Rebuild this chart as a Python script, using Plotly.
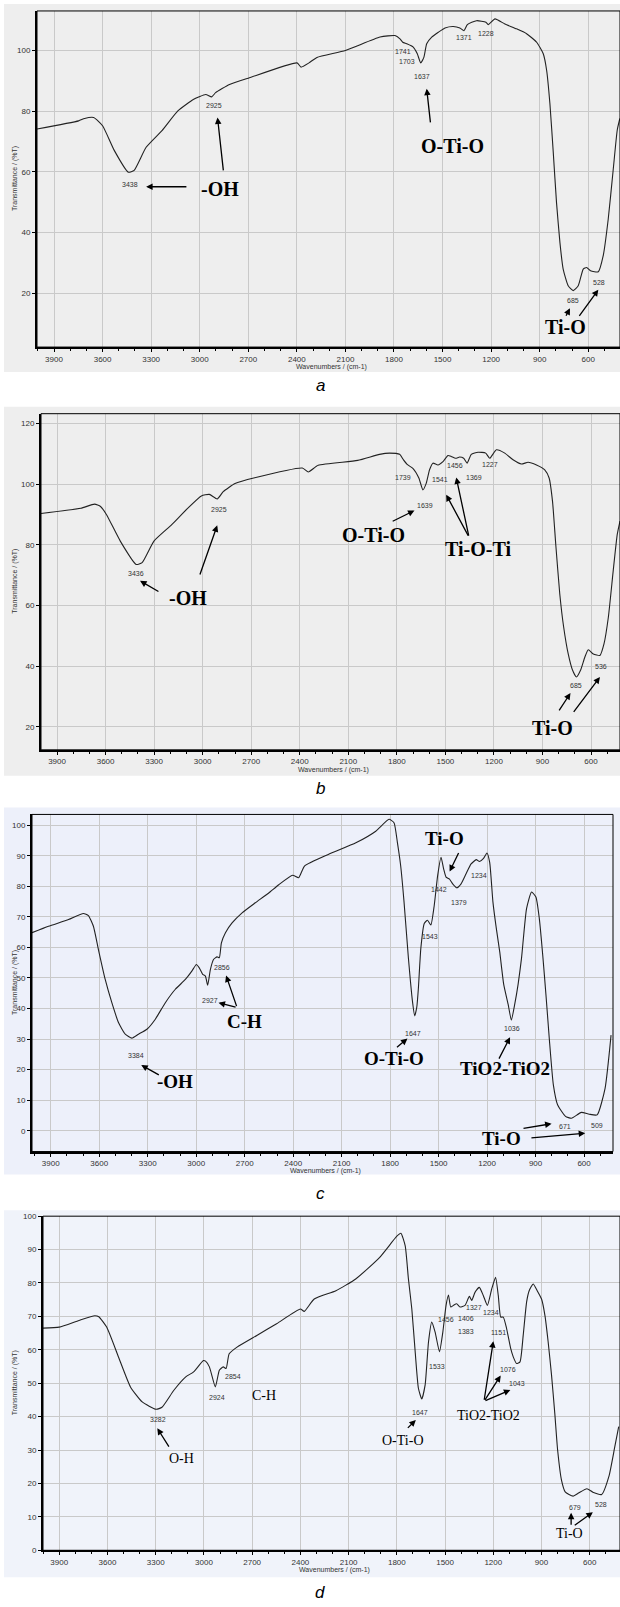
import plotly.graph_objects as go

W, H = 620, 1607

# ---------------- data ----------------
wn_a = [4005, 3748, 3711, 3655, 3600, 3527, 3441, 3405, 3331, 3233, 3135, 3037, 2963, 2926, 2902,
        2816, 2693, 2399, 2374, 2325, 2276, 2100,
        1886, 1794, 1763, 1746, 1722, 1681, 1656, 1635, 1615, 1598, 1567, 1526, 1485, 1434, 1393,
        1368, 1347, 1290, 1232, 1218, 1176, 1115, 1043, 981, 919, 878, 857, 837, 816, 796,
        775, 755, 724, 693, 662, 631, 610, 586, 538, 508, 477, 446, 421, 405]
t_a = [74.1, 76.8, 77.6, 77.9, 75.2, 67.0, 59.9, 60.5, 68.1, 73.6, 80.1, 83.9, 85.5, 84.7, 86.1,
       88.8, 91.0, 95.9, 94.5, 95.9, 97.7, 100.0,
       104.4, 104.9, 103.8, 102.7, 102.2, 101.1, 98.9, 95.9, 97.8, 102.2, 104.4, 106.0, 107.4, 107.9, 107.4,
       106.5, 108.5, 109.8, 109.3, 108.5, 110.4, 108.7, 107.1, 105.5, 102.7, 98.9, 93.4, 82.5, 66.2, 49.8,
       36.7, 28.0, 22.5, 20.9, 22.5, 28.0, 28.5, 27.4, 27.1, 32.3, 44.3, 60.7, 73.8, 77.6]

wn_b = [3999, 3753, 3668, 3631, 3594, 3509, 3411, 3374, 3301, 3191, 3093, 3008, 2959, 2910, 2873,
        2800, 2678, 2384, 2347, 2286, 2042,
        1907, 1845, 1783, 1759, 1732, 1701, 1664, 1639, 1618, 1598, 1577, 1546, 1515, 1484, 1464,
        1437, 1412, 1387, 1366, 1340, 1298, 1251, 1226, 1185, 1133, 1082, 1030, 989, 937, 886,
        859, 838, 818, 793, 769, 741, 714, 690, 665, 638, 617, 586, 545, 520, 493, 463, 438, 421]
t_b = [90.3, 92.0, 93.4, 92.6, 89.9, 81.2, 73.5, 74.1, 81.2, 86.6, 92.0, 96.1, 96.6, 95.1, 97.5,
       100.2, 102.1, 105.3, 104.0, 106.2, 107.8,
       109.8, 110.2, 109.8, 108.0, 106.3, 105.2, 102.0, 98.1, 100.3, 104.7, 106.9, 106.3, 107.4, 109.4, 109.1,
       108.5, 108.9, 108.5, 106.9, 109.8, 110.5, 110.2, 108.5, 111.3, 110.2, 108.0, 106.6, 107.2, 106.3, 104.7,
       102.0, 94.3, 80.1, 63.7, 52.8, 44.0, 38.6, 36.4, 38.6, 43.0, 45.4, 44.0, 43.5, 47.3, 56.1, 71.4, 83.4, 87.8]

wn_c = [4016, 3914, 3790, 3698, 3667, 3636, 3605, 3563, 3522, 3481, 3439, 3398, 3357, 3305, 3253,
        3191, 3129, 3067, 3026, 2999, 2981, 2960, 2943, 2929, 2912, 2892, 2871, 2857, 2844, 2819,
        2778, 2716, 2634, 2551, 2489, 2403, 2366, 2330, 2183, 2012,
        1889, 1807, 1776, 1755, 1735, 1714, 1687, 1662, 1648, 1635, 1625, 1610, 1589, 1569, 1548,
        1527, 1506, 1485, 1469, 1454, 1434, 1413, 1388, 1361, 1330, 1299, 1267, 1247, 1222, 1201,
        1184, 1164, 1143, 1122, 1097, 1070, 1050, 1029, 1008, 987, 956, 925, 898, 877, 856,
        836, 815, 790, 764, 715, 678, 617, 568, 519, 470, 433]
t_c = [64.8, 66.9, 69.1, 71.1, 70.4, 66.9, 59.3, 49.5, 41.9, 35.4, 31.6, 30.3, 31.6, 33.2, 36.5,
       41.9, 46.3, 49.5, 52.3, 54.4, 53.3, 51.2, 50.6, 47.6, 52.8, 56.1, 56.9, 56.6, 61.5, 64.8,
       68.0, 71.3, 74.6, 77.8, 80.5, 83.6, 82.8, 86.6, 90.4, 94.2,
       98.0, 101.9, 100.8, 94.3, 86.8, 74.9, 56.5, 42.4, 37.6, 40.5, 46.8, 59.7, 67.8, 68.9, 67.3,
       73.8, 83.5, 89.5, 85.7, 83.0, 82.4, 80.8, 79.5, 80.8, 84.1, 87.3, 88.7, 88.1, 89.1, 90.9,
       87.8, 74.9, 66.2, 58.6, 47.8, 41.4, 36.2, 41.4, 48.0, 56.5, 72.7, 78.1, 76.5, 69.5, 57.6,
       44.6, 30.0, 15.0, 8.5, 4.7, 4.1, 6.0, 5.4, 5.2, 13.9, 31.3]

wn_d = [4001, 3900, 3777, 3679, 3654, 3605, 3531, 3457, 3384, 3298, 3261, 3187, 3113, 3064, 3003,
        2990, 2966, 2929, 2904, 2880, 2862, 2843, 2794, 2671, 2548, 2400, 2376, 2314, 2179, 2056,
        1908, 1800, 1775, 1748, 1728, 1707, 1686, 1666, 1645, 1624, 1603, 1583, 1562, 1535, 1514,
        1494, 1479, 1465, 1448, 1428, 1407, 1376, 1349, 1334, 1314, 1287, 1262, 1237, 1210, 1186,
        1169, 1154, 1138, 1117, 1092, 1076, 1055, 1034, 1014, 993, 977, 952, 927, 900, 879,
        859, 838, 817, 800, 776, 753, 704, 667, 618, 581, 526, 481, 444, 420]
t_d = [66.5, 66.8, 68.8, 70.2, 69.9, 66.8, 57.8, 48.9, 44.4, 42.2, 42.8, 47.9, 51.9, 53.4, 56.8,
       56.6, 54.9, 48.9, 53.9, 54.9, 54.4, 58.8, 60.8, 64.3, 67.8, 72.2, 71.5, 75.2, 77.7, 81.2,
       87.6, 94.0, 94.9, 91.1, 81.2, 72.3, 59.4, 48.5, 45.3, 49.5, 62.4, 68.3, 65.3, 59.4, 65.3,
       73.3, 76.4, 72.8, 73.3, 73.8, 72.8, 73.3, 76.0, 74.8, 77.2, 78.7, 76.2, 73.3, 78.2, 81.7,
       76.2, 69.8, 69.8, 66.3, 60.4, 57.9, 55.9, 56.4, 64.4, 74.3, 77.7, 79.7, 77.7, 75.2, 70.3,
       62.4, 52.5, 40.6, 30.0, 21.0, 17.5, 16.2, 17.2, 18.4, 17.4, 16.7, 22.1, 31.1, 37.0]

x_tick_vals = [3900, 3600, 3300, 3000, 2700, 2400, 2100, 1800, 1500, 1200, 900, 600]
y_ticks_a = [20, 40, 60, 80, 100]
y_ticks_b = [20, 40, 60, 80, 100, 120]
y_ticks_c = [0, 10, 20, 30, 40, 50, 60, 70, 80, 90, 100]
y_ticks_d = [0, 10, 20, 30, 40, 50, 60, 70, 80, 90, 100]

# peak labels (text, wavenumber, %T)
peaks_a = [("3438", 3429, 55.8), ("2925", 2914, 81.9), ("1741", 1742, 99.8), ("1703", 1722, 96.2),
           ("1637", 1629, 91.3), ("1371", 1368, 104.4), ("1228", 1232, 105.7), ("685", 697, 17.6),
           ("528", 534, 23.6)]
peaks_b = [("3436", 3411, 70.5), ("2925", 2898, 91.5), ("1739", 1759, 102.2), ("1639", 1629, 92.9),
           ("1541", 1532, 101.4), ("1456", 1441, 106.1), ("1369", 1325, 102.2), ("1227", 1226, 106.6),
           ("685", 690, 33.7), ("536", 541, 39.7)]
peaks_c = [("3384", 3373, 24.5), ("2927", 2912, 42.7), ("2856", 2840, 53.3), ("1647", 1657, 31.8),
           ("1543", 1552, 63.4), ("1442", 1495, 79.1), ("1379", 1377, 74.6), ("1234", 1252, 83.5),
           ("1036", 1045, 33.4), ("671", 715, 1.4), ("509", 519, 1.7)]
peaks_d = [("3282", 3285, 39.0), ("2924", 2917, 45.7), ("2854", 2818, 51.9), ("1647", 1658, 41.3),
           ("1533", 1550, 54.9), ("1456", 1493, 69.0), ("1406", 1373, 69.4), ("1383", 1370, 65.6),
           ("1327", 1320, 72.8), ("1234", 1212, 71.2), ("1151", 1168, 65.2), ("1076", 1110, 54.1),
           ("1043", 1054, 50.0), ("679", 691, 12.7), ("528", 531, 13.7)]

# assignment labels (text, wavenumber, %T)
groups_a = [("-OH", 2875, 54.3), ("O-Ti-O", 1438, 68.6), ("Ti-O", 738, 8.9)]
groups_b = [("-OH", 3093, 62.6), ("O-Ti-O", 1944, 83.3), ("Ti-O-Ti", 1298, 78.5), ("Ti-O", 838, 19.5)]
groups_c = [("-OH", 3129, 16.0), ("C-H", 2700, 35.6), ("O-Ti-O", 1779, 23.7), ("TiO2-TiO2", 1089, 20.4),
            ("Ti-O", 1463, 95.5), ("Ti-O", 1114, -2.4)]
groups_d = [("O-H", 3138, 27.6), ("C-H", 2626, 46.4), ("O-Ti-O", 1761, 32.8), ("TiO2-TiO2", 1228, 40.2),
            ("Ti-O", 728, 5.0)]

# arrows (tail wn, tail %T, head wn, head %T)
arrows_a = [(3073, 55.1, 3331, 55.1), (2853, 60.0, 2890, 77.9), (1574, 75.8, 1598, 87.4),
            (742, 12.1, 713, 15.1), (662, 12.1, 538, 21.2)]
arrows_b = [(3264, 64.3, 3387, 68.1), (3020, 69.7, 2910, 86.4), (1835, 87.5, 1691, 91.3),
            (1354, 82.5, 1495, 96.5), (1354, 82.5, 1433, 102.2), (803, 24.9, 727, 31.1),
            (714, 24.4, 545, 36.4)]
arrows_c = [(3222, 18.0, 3340, 21.5), (2747, 40.3, 2815, 50.8), (2747, 40.3, 2862, 41.9),
            (1767, 26.9, 1693, 30.2), (1131, 23.1, 1058, 30.6), (1372, 91.4, 1432, 84.8),
            (984, 0.7, 801, 2.3), (935, -2.4, 593, -0.8)]
arrows_d = [(3212, 30.6, 3290, 36.5), (1741, 36.2, 1682, 39.0), (1258, 44.6, 1200, 62.6),
            (1258, 44.6, 1154, 52.3), (1258, 44.6, 1094, 48.0), (716, 7.2, 716, 11.2),
            (703, 7.2, 581, 11.4)]

sub_labels = ["a", "b", "c", "d"]

# ---------------- layout geometry (pixels) ----------------
panels = [
    dict(wn=wn_a, t=t_a, yt=y_ticks_a, xr=[4005, 404], yr=[2.3, 113.0], px=(37, 620), py=(7, 345),
         bg=(4, 0, 620, 370), bgc="#eeeeee", peaks=peaks_a, groups=groups_a, arrows=arrows_a,
         gfont=dict(family="Liberation Serif", size=20, color="black"), bold=True, lab_y=384),
    dict(wn=wn_b, t=t_b, yt=y_ticks_b, xr=[3999, 421], yr=[12.4, 123.2], px=(41, 620), py=(412, 750),
         bg=(4, 405, 620, 776), bgc="#eeeeee", peaks=peaks_b, groups=groups_b, arrows=arrows_b,
         gfont=dict(family="Liberation Serif", size=20, color="black"), bold=True, lab_y=789),
    dict(wn=wn_c, t=t_c, yt=y_ticks_c, xr=[4016, 421], yr=[-6.8, 103.5], px=(32, 613), py=(815, 1154),
         bg=(4, 808, 620, 1177), bgc="#edf0fa", peaks=peaks_c, groups=groups_c, arrows=arrows_c,
         gfont=dict(family="Liberation Serif", size=19, color="black"), bold=True, lab_y=1196),
    dict(wn=wn_d, t=t_d, yt=y_ticks_d, xr=[4001, 412], yr=[0, 100], px=(43, 620), py=(1219, 1555),
         bg=(4, 1213, 620, 1582), bgc="#f0f3fa", peaks=peaks_d, groups=groups_d, arrows=arrows_d,
         gfont=dict(family="Liberation Serif", size=14, color="black"), bold=False, lab_y=1597),
]

fig = go.Figure()
shapes = []
annotations = []
tick_font = dict(family="Liberation Sans", size=8, color="#333333")
small_font = dict(family="Liberation Sans", size=7, color="#333333")

for i, p in enumerate(panels):
    n = "" if i == 0 else str(i + 1)
    xa, ya = "x" + n, "y" + n
    fig.add_trace(go.Scatter(x=p["wn"], y=p["t"], xaxis=xa, yaxis=ya, mode="lines",
                             line=dict(color="#222222", width=1.1, shape="spline", smoothing=0.5),
                             showlegend=False, hoverinfo="skip"))
    x0, x1 = p["px"]
    y0, y1 = p["py"]
    fig.update_layout(**{
        "xaxis" + n: dict(domain=[x0 / W, x1 / W], range=p["xr"], anchor=ya,
                          tickvals=x_tick_vals, ticks="outside", ticklen=3, tickwidth=1,
                          tickcolor="black", tickfont=tick_font, showline=True, linecolor="black",
                          linewidth=2, mirror=False, showgrid=True, gridcolor="#c9c9c9", gridwidth=1,
                          zeroline=False, fixedrange=True,
                          minor=dict(dtick=100, tick0=0, ticks="outside", ticklen=2, tickcolor="black",
                                     showgrid=False)),
        "yaxis" + n: dict(domain=[1 - y1 / H, 1 - y0 / H], range=p["yr"], anchor=xa,
                          tickvals=p["yt"], ticks="outside", ticklen=3, tickwidth=1,
                          tickcolor="black", tickfont=tick_font, showline=True, linecolor="black",
                          linewidth=2, mirror=False, showgrid=True, gridcolor="#c9c9c9", gridwidth=1,
                          zeroline=False, fixedrange=True),
    })
    bx0, by0, bx1, by1 = p["bg"]
    shapes.append(dict(type="rect", xref="paper", yref="paper", x0=bx0 / W, x1=bx1 / W,
                       y0=1 - by1 / H, y1=1 - by0 / H, fillcolor=p["bgc"], line=dict(width=0),
                       layer="below"))
    shapes.append(dict(type="rect", xref=xa + " domain", yref=ya + " domain", x0=0, x1=1, y0=0, y1=1,
                       line=dict(color="black", width=1), fillcolor="rgba(0,0,0,0)", layer="above"))
    for txt, xv, yv in p["peaks"]:
        annotations.append(dict(x=xv, y=yv, xref=xa, yref=ya, text=txt, showarrow=False,
                                xanchor="center", yanchor="middle", font=small_font))
    for txt, xv, yv in p["groups"]:
        annotations.append(dict(x=xv, y=yv, xref=xa, yref=ya,
                                text=("<b>%s</b>" % txt) if p["bold"] else txt,
                                xanchor="center", yanchor="middle",
                                showarrow=False, font=p["gfont"]))
    for tx, ty, hx, hy in p["arrows"]:
        annotations.append(dict(x=hx, y=hy, ax=tx, ay=ty, xref=xa, yref=ya, axref=xa, ayref=ya,
                                text="", showarrow=True, arrowhead=2, arrowsize=1, arrowwidth=1.3,
                                arrowcolor="black", standoff=0, startstandoff=0))
    # axis titles
    annotations.append(dict(x=(x0 + x1) / 2 / W + 0.005, y=1 - (y1 + 20) / H, xref="paper", yref="paper",
                            xanchor="center", yanchor="middle",
                            text="Wavenumbers / (cm-1)", showarrow=False, font=small_font))
    annotations.append(dict(x=15 / W, y=1 - (y0 + y1) / 2 / H, xref="paper", yref="paper",
                            xanchor="center", yanchor="middle",
                            text="Transmittance / (%T)", showarrow=False, textangle=-90, font=small_font))
    annotations.append(dict(x=320 / W, y=1 - p["lab_y"] / H, xref="paper", yref="paper",
                            xanchor="center", yanchor="middle",
                            text="<i>%s</i>" % sub_labels[i], showarrow=False,
                            font=dict(family="Liberation Sans", size=17, color="black")))

fig.update_layout(width=W, height=H, margin=dict(l=0, r=0, t=0, b=0),
                  paper_bgcolor="white", plot_bgcolor="rgba(0,0,0,0)",
                  shapes=shapes, annotations=annotations, showlegend=False)

fig.write_html("out.html", config={"displayModeBar": False},
               post_script="document.body.style.margin='0px';document.body.style.padding='0px';")
